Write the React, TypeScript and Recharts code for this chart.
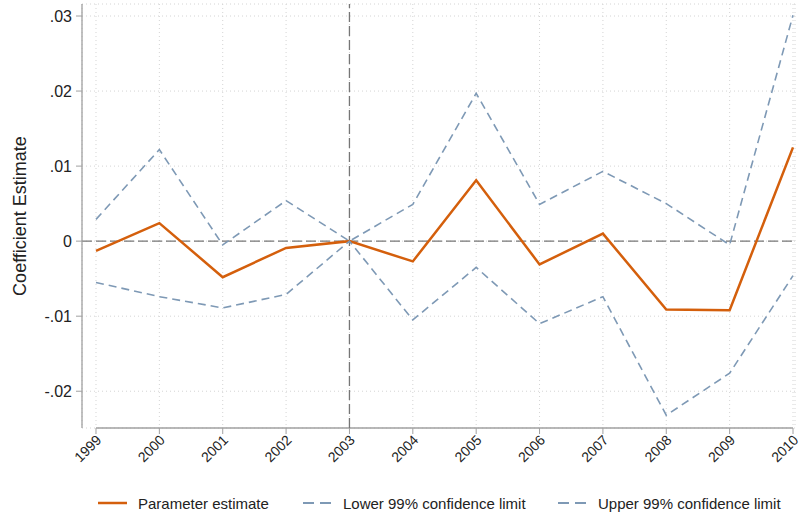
import { LineChart, Line, XAxis, YAxis, CartesianGrid, ReferenceLine, Legend } from 'recharts';

// years on the x axis
const years = [1999, 2000, 2001, 2002, 2003, 2004, 2005, 2006, 2007, 2008, 2009, 2010];

// coefficient estimates and 99% confidence bounds
const estimate = [-0.0013, 0.0024, -0.0048, -0.0009, 0, -0.0027, 0.0081, -0.0031, 0.001, -0.0091, -0.0092, 0.0125];
const lower99 = [-0.0055, -0.0074, -0.0089, -0.0071, 0, -0.0105, -0.0035, -0.011, -0.0074, -0.0232, -0.0176, -0.0046];
const upper99 = [0.0029, 0.0122, -0.0005, 0.0054, 0, 0.0049, 0.0197, 0.0049, 0.0093, 0.005, -0.0005, 0.0301];

const yTicks = [-0.02, -0.01, 0, 0.01, 0.02, 0.03];
const yDomain: [number, number] = [-0.0249, 0.0316];
// a little room left of 1999 so the y axis sits detached from the first year
const xDomain: [number, number] = [1999 - 14 / 63.4, 2010 + 2 / 63.4];
const eventYear = 2003;

const series = [
  { key: 'estimate', name: 'Parameter estimate', color: '#D45F0C', dash: undefined, width: 2.5 },
  { key: 'lower', name: 'Lower 99% confidence limit', color: '#7E99B5', dash: '8 5', width: 1.6 },
  { key: 'upper', name: 'Upper 99% confidence limit', color: '#7E99B5', dash: '8 5', width: 1.6 },
];

const chartData = years.map((year, i) => ({
  year,
  estimate: estimate[i],
  lower: lower99[i],
  upper: upper99[i],
}));

const FONT = 'Arial, "Liberation Sans", Helvetica, sans-serif';
const AXIS_COLOR = '#a0a0a0';

const fmtY = (v: number) => (v === 0 ? '0' : v.toFixed(2).replace('0.', '.'));

const YearTick = ({ x, y, payload }: any) => (
  <g transform={`translate(${x},${y})`}>
    <text
      textAnchor="end"
      transform="rotate(-45)"
      dx={1}
      dy={8}
      fontSize={14}
      fontFamily={FONT}
      fill="#222"
    >
      {payload.value}
    </text>
  </g>
);

const YTitle = ({ viewBox }: any) => {
  const cx = viewBox.x + 20;
  const cy = viewBox.y + viewBox.height / 2;
  return (
    <text
      x={cx}
      y={cy}
      transform={`rotate(-90, ${cx}, ${cy})`}
      textAnchor="middle"
      dominantBaseline="central"
      fontSize={18}
      fontFamily={FONT}
      fill="#222"
    >
      Coefficient Estimate
    </text>
  );
};

const legendLefts = [98, 303, 558];

const LegendContent = () => (
  <div style={{ position: 'relative', height: 24, width: 800, fontFamily: FONT, fontSize: 15, color: '#222' }}>
    {series.map((s, i) => (
      <div
        key={s.key}
        style={{ position: 'absolute', left: legendLefts[i], top: 0, height: 24, display: 'flex', alignItems: 'center', whiteSpace: 'nowrap' }}
      >
        <svg width={29} height={6} style={{ marginRight: 11 }}>
          <line x1={0} y1={3} x2={29} y2={3} stroke={s.color} strokeWidth={s.dash ? 1.8 : 2.5} strokeDasharray={s.dash ? '11 6' : undefined} />
        </svg>
        <span>{s.name}</span>
      </div>
    ))}
  </div>
);

export default function App() {
  return (
    <div style={{ position: 'absolute', left: 0, top: 0, width: 800, height: 515, background: '#fff' }}>
      <LineChart width={800} height={515} data={chartData} margin={{ top: 4, right: 5, bottom: 13, left: 0 }}>
        <CartesianGrid stroke="#d4d4d4" strokeDasharray="1 3" vertical horizontal />
        <XAxis
          dataKey="year"
          type="number"
          domain={xDomain}
          ticks={years}
          allowDataOverflow
          axisLine={false}
          tickLine={{ stroke: AXIS_COLOR }}
          tickSize={6}
          tick={<YearTick />}
          height={50}
          interval={0}
        />
        <YAxis
          type="number"
          domain={yDomain}
          ticks={yTicks}
          allowDataOverflow
          width={82}
          axisLine={{ stroke: AXIS_COLOR, strokeWidth: 1.3 }}
          tickLine={{ stroke: AXIS_COLOR }}
          tickSize={6}
          tickMargin={4}
          tickFormatter={fmtY}
          tick={{ fontSize: 16, fontFamily: FONT, fill: '#222' }}
          label={{ content: (p: any) => <YTitle {...p} /> }}
        />
        {/* detached x axis line, Stata style */}
        <ReferenceLine
          segment={[{ x: 1999, y: yDomain[0] }, { x: 2010, y: yDomain[0] }]}
          stroke={AXIS_COLOR}
          strokeWidth={1.3}
          ifOverflow="visible"
        />
        <ReferenceLine y={0} stroke="#767676" strokeWidth={1.3} strokeDasharray="10 4" ifOverflow="visible" />
        <ReferenceLine x={eventYear} stroke="#767676" strokeWidth={1.3} strokeDasharray="10 4" ifOverflow="visible" />
        {series.map((s) => (
          <Line
            key={s.key}
            type="linear"
            dataKey={s.key}
            name={s.name}
            stroke={s.color}
            strokeWidth={s.width}
            strokeDasharray={s.dash}
            dot={false}
            activeDot={false}
            isAnimationActive={false}
          />
        ))}
        <Legend verticalAlign="bottom" content={<LegendContent />} wrapperStyle={{ left: 0, bottom: 0, width: 800 }} />
      </LineChart>
    </div>
  );
}
